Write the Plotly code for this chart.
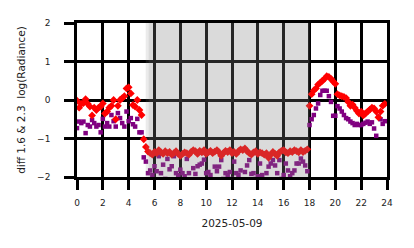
import plotly.graph_objects as go

# 10-minute samples, one row per hour (6 values each)
red_vals = [
    -0.02, -0.20, -0.10, -0.08, 0.02, -0.10,
    -0.17, -0.40, -0.20, -0.26, -0.20, -0.17,
    -0.09, -0.35, -0.30, -0.20, -0.15, 0.00,
    -0.50, -0.15, 0.00, 0.05, 0.10, 0.30,
    0.33, 0.17, -0.13, -0.17, 0.00, -0.26,
    -0.39, -1.02, -1.22, -1.34, -1.38, -1.42,
    -1.35, -1.38, -1.30, -1.36, -1.40, -1.33,
    -1.38, -1.35, -1.42, -1.38, -1.33, -1.40,
    -1.45, -1.40, -1.36, -1.38, -1.42, -1.35,
    -1.30, -1.33, -1.40, -1.32, -1.36, -1.30,
    -1.40, -1.36, -1.32, -1.38, -1.34, -1.30,
    -1.36, -1.45, -1.38, -1.32, -1.35, -1.30,
    -1.38, -1.35, -1.40, -1.33, -1.28, -1.30,
    -1.26, -1.33, -1.38, -1.42, -1.36, -1.33,
    -1.40, -1.36, -1.38, -1.42, -1.38, -1.50,
    -1.42, -1.35, -1.40, -1.45, -1.36, -1.32,
    -1.30, -1.36, -1.38, -1.33, -1.35, -1.30,
    -1.33, -1.36, -1.30, -1.35, -1.32, -1.28,
    -0.15, 0.15, 0.25, 0.30, 0.40, 0.45,
    0.50, 0.55, 0.62, 0.60, 0.55, 0.48,
    0.42, 0.15, 0.12, 0.10, 0.08, 0.05,
    -0.05, -0.15, -0.12, -0.20, -0.28, -0.35,
    -0.30, -0.40, -0.35, -0.30, -0.25, -0.20,
    -0.22, -0.30, -0.45, -0.30, -0.15, -0.10,
]

purple_vals = [
    -0.73, -0.56, -0.60, -0.56, -0.86, -0.65,
    -0.69, -0.52, -0.60, -0.69, -0.65, -0.84,
    -0.49, -0.69, -0.60, -0.69, -0.39, -0.55,
    -0.69, -0.34, -0.47, -0.60, -0.69, -0.30,
    -0.55, -0.47, -0.63, -0.69, -0.49, -0.84,
    -0.84, -1.49, -1.60, -1.90, -1.83, -1.95,
    -1.72, -1.85, -1.46, -1.90, -1.68, -2.05,
    -1.53, -1.80, -1.72, -1.46, -1.90, -1.95,
    -1.81, -1.90, -1.98, -1.53, -1.90, -2.10,
    -1.77, -1.92, -1.72, -1.68, -1.65, -1.55,
    -1.90, -1.87, -1.95, -2.10, -1.73, -1.85,
    -1.73, -1.56, -2.05, -1.90, -1.95, -1.87,
    -2.05, -1.60, -1.90, -1.95, -1.83, -2.10,
    -1.87, -1.70, -1.56, -1.92, -1.90, -2.05,
    -1.98, -1.65, -1.95, -2.10, -1.90, -1.73,
    -1.65, -1.56, -1.70, -1.90, -1.56, -2.05,
    -1.95, -1.65, -1.83, -1.98, -1.90, -1.83,
    -1.65, -1.65, -1.52, -1.60, -1.70, -1.85,
    -0.65, -0.50, -0.39, -0.22, -0.09, 0.13,
    0.24, 0.24, 0.24, 0.10, -0.05, -0.41,
    -0.41, -0.16, -0.22, -0.30, -0.39, -0.47,
    -0.50, -0.56, -0.60, -0.65, -0.62, -0.65,
    -0.65, -0.62, -0.59, -0.56, -0.62, -0.58,
    -0.74, -0.93, -0.43, -0.50, -0.62, -0.55,
]

hours = [i / 6 for i in range(len(red_vals))]
x_ticks = list(range(0, 25, 2))
y_ticks = [-2, -1, 0, 1, 2]
twilight_start = 5.32
night_start = 5.55
night_end = 18.0

fig = go.Figure()
fig.add_trace(go.Scatter(x=hours, y=purple_vals, mode="markers",
                         marker=dict(symbol="square", size=4.5, color="#800080"),
                         showlegend=False))
fig.add_trace(go.Scatter(x=hours, y=red_vals, mode="markers",
                         marker=dict(symbol="diamond", size=6, color="#ff0000"),
                         showlegend=False))

for x0 in (twilight_start, night_start):
    fig.add_shape(type="rect", xref="x", yref="y", x0=x0, x1=night_end, y0=-2, y1=2,
                  fillcolor="gray", opacity=0.16, line_width=0, layer="above")

axis_common = dict(showgrid=True, gridcolor="black", gridwidth=2.6,
                   showline=True, linecolor="black", linewidth=2.6, mirror=True,
                   ticks="outside", ticklen=10, tickwidth=2.6, tickcolor="black",
                   zeroline=True, zerolinecolor="black", zerolinewidth=2.6,
                   tickfont=dict(family="DejaVu Sans", size=9, color="#222"))

fig.update_xaxes(range=[0, 24], tickvals=x_ticks, ticktext=[str(v) for v in x_ticks],
                 ticklabelstandoff=5,
                 title=dict(text="2025-05-09", font=dict(family="DejaVu Sans", size=10.5, color="#222"),
                            standoff=14),
                 **axis_common)
fig.update_yaxes(range=[-2, 2], tickvals=y_ticks, ticklabelstandoff=12,
                 title=dict(text="diff 1.6 &amp; 2.3\u00a0 log(Radiance)",
                            font=dict(family="DejaVu Sans", size=10.5, color="#222"), standoff=10),
                 **axis_common)

fig.update_layout(width=414, height=248, margin=dict(l=77, r=27, t=23, b=71),
                  plot_bgcolor="white", paper_bgcolor="white")

fig.write_html("out.html")
